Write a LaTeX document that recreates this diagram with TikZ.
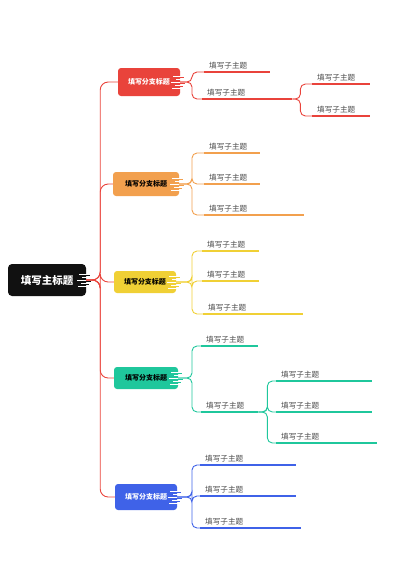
\documentclass[tikz,border=0pt]{standalone}
\usepackage{fontspec}
\newfontfamily\cjk{Noto Sans CJK SC}
\usetikzlibrary{positioning}

\definecolor{mred}{HTML}{E9433B}
\definecolor{morange}{HTML}{F2A04E}
\definecolor{myellow}{HTML}{F0D035}
\definecolor{mgreen}{HTML}{1FC79C}
\definecolor{mblue}{HTML}{3F62E8}
\definecolor{mblack}{HTML}{111111}
\definecolor{leafgray}{HTML}{4A4A4A}

\tikzset{
  branch/.style={fill=#1, rounded corners=3, minimum width=62, minimum height=24, inner sep=2,
    font=\cjk\bfseries\fontsize{7}{8}\selectfont},
  leaf/.style={anchor=south west, text width=#1, inner xsep=5, inner ysep=2.5, align=left,
    text=leafgray, font=\cjk\fontsize{7.6}{8}\selectfont},
  con/.style={draw=#1, line width=0.9, rounded corners=5},
  uline/.style={draw=#1, line width=1.4},
}

% frayed right end of a brush box: white gaps cut in, thin bristles out
\newcommand{\streaks}[2]{%
  \foreach \dy/\len in {-6/9,-3/6,0/11,3/7,6/10}
    \draw[white, line width=0.7] ([xshift=2]#1.east) ++(0,\dy) -- ++(-\len,0);
  \foreach \dy/\len in {-4.5/4,1.5/5,4.5/3}
    \draw[#2, line width=1.2] (#1.east) ++(0,\dy) -- ++(\len,0);
}

\begin{document}
\begin{tikzpicture}[x=1pt, y=-1pt]
  \useasboundingbox (0,0) rectangle (400,566);
  \coordinate (bx) at (192,0);

  % main topic
  \node[fill=mblack, rounded corners=4, minimum width=78, minimum height=32, text=white,
    font=\cjk\bfseries\fontsize{10.5}{12}\selectfont] (main) at (47,280) {填写主标题};
  \streaks{main}{mblack}

  % branches
  \node[branch=mred, text=white, minimum height=28] (rb) at (149,82) {填写分支标题};
  \node[branch=morange, minimum width=66] (ob) at (146,184) {填写分支标题};
  \node[branch=myellow, minimum width=62, minimum height=22] (yb) at (145,282) {填写分支标题};
  \node[branch=mgreen, minimum width=64, minimum height=22] (gb) at (146,378) {填写分支标题};
  \node[branch=mblue, text=white, minimum width=62, minimum height=26] (bb) at (146,497) {填写分支标题};
  \streaks{rb}{mred}
  \streaks{ob}{morange}
  \streaks{yb}{myellow}
  \streaks{gb}{mgreen}
  \streaks{bb}{mblue}

  \foreach \b in {rb,ob,yb,gb,bb}
    \draw[con=mred, rounded corners=8] (main.east) -- ++(14,0) |- (\b.west);

  % red leaves
  \node[leaf=56pt] (r1) at (204,72) {填写子主题};
  \node[leaf=80pt] (r2) at (202,99) {填写子主题};
  \node[leaf=48pt] (r3) at (312,84) {填写子主题};
  \node[leaf=48pt] (r4) at (312,116) {填写子主题};

  % orange leaves
  \node[leaf=46pt] (o1) at (204,153) {填写子主题};
  \node[leaf=46pt] (o2) at (204,184) {填写子主题};
  \node[leaf=90pt] (o3) at (204,215) {填写子主题};

  % yellow leaves
  \node[leaf=47pt] (y1) at (202,251) {填写子主题};
  \node[leaf=47pt] (y2) at (202,281) {填写子主题};
  \node[leaf=90pt] (y3) at (203,314) {填写子主题};

  % green leaves
  \node[leaf=47pt] (g1) at (201,346) {填写子主题};
  \node[leaf=47pt] (g2) at (201,412) {填写子主题};
  \node[leaf=86pt] (g3) at (276,381) {填写子主题};
  \node[leaf=86pt] (g4) at (276,412) {填写子主题};
  \node[leaf=91pt] (g5) at (276,443) {填写子主题};

  % blue leaves
  \node[leaf=86pt] (b1) at (200,465) {填写子主题};
  \node[leaf=86pt] (b2) at (200,496) {填写子主题};
  \node[leaf=91pt] (b3) at (200,528) {填写子主题};

  % underlines
  \foreach \n/\c in {r1/mred,r2/mred,r3/mred,r4/mred,o1/morange,o2/morange,o3/morange,
      y1/myellow,y2/myellow,y3/myellow,g1/mgreen,g2/mgreen,g3/mgreen,g4/mgreen,g5/mgreen,
      b1/mblue,b2/mblue,b3/mblue}
    \draw[uline=\c] (\n.south west) -- (\n.south east);

  % braces
  \foreach \l in {r1,r2}
    \draw[con=mred] (rb.east) -- (rb -| bx) |- (\l.south west);
  \foreach \l in {r3,r4}
    \draw[con=mred] (r2.south east) -- ++(8,0) |- (\l.south west);
  \foreach \l in {o1,o2,o3}
    \draw[con=morange] (ob.east) -- (ob -| bx) |- (\l.south west);
  \foreach \l in {y1,y2,y3}
    \draw[con=myellow] (yb.east) -- (yb -| bx) |- (\l.south west);
  \foreach \l in {g1,g2}
    \draw[con=mgreen] (gb.east) -- (gb -| bx) |- (\l.south west);
  \foreach \l in {g3,g4,g5}
    \draw[con=mgreen] (g2.south east) -- ++(9,0) |- (\l.south west);
  \foreach \l in {b1,b2,b3}
    \draw[con=mblue] (bb.east) -- (bb -| bx) |- (\l.south west);
\end{tikzpicture}
\end{document}
